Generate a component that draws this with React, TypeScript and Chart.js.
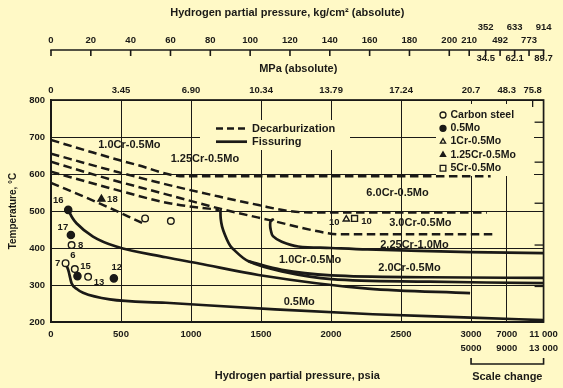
import React, { useEffect, useRef } from "react";
import { Chart, registerables } from "chart.js";

Chart.register(...registerables);

const W = 563;
const H = 388;
const BG = "#fff9c6";
const INK = "#1b1a17";
const FONT = '"Liberation Sans", Arial, Helvetica, sans-serif';

// ---------------- axes ----------------
// x axis units: psia up to 3000, then the compressed "scale change" band
const X_MAX = 3518;
const psiaTicks = [0, 500, 1000, 1500, 2000, 2500, 3000, 3255, 3518];
const psiaLabels: (string | string[])[] = [
  "0", "500", "1000", "1500", "2000", "2500",
  ["3000", "5000"], ["7000", "9000"], ["11 000", "13 000"],
];
const tempTicks = [200, 300, 400, 500, 600, 700, 800];
const mpaTicks = [0, 500, 1000, 1500, 2000, 2500, 3000, 3255, 3440];
const mpaLabels = ["0", "3.45", "6.90", "10.34", "13.79", "17.24", "20.7", "48.3", "75.8"];
const kgTicks = [0, 20, 40, 60, 80, 100, 120, 140, 160, 180, 200, 210, 352, 492, 633, 773, 914];
const kgHighRow = [352, 633, 914];
const kgMpaValues = [352, 633, 914];
const kgMpaLabels = ["34.5", "62.1", "89.7"];
const rightTickTemps = [740, 632, 521, 408, 296];
const kgToAxis = (kg: number) => (kg <= 210 ? kg * 14.223 : 3000 + (kg - 210) * (518 / 704));

// ---------------- decarburization curves (dashed) ----------------
const decA_p = [0, 300, 600, 950, 3140];
const decA_t = [692, 658, 626, 594, 594];
const decB_p = [0, 420, 844, 1200, 1482, 1695, 1850, 3113];
const decB_t = [655, 611, 570, 539, 516, 500, 496, 496];
const decC_p = [0, 420, 844, 1200, 1553, 1979, 2060, 3184];
const decC_t = [633, 586, 543, 507, 476, 440, 437, 437];
const decD_p = [0, 420, 844, 1200];
const decD_t = [606, 562, 521, 503];
const decE_p = [0, 350, 655];
const decE_t = [576, 520, 467];

// ---------------- fissuring curves (solid) ----------------
const fisCS_p = [104, 123, 147, 185, 229, 420, 820, 1600, 2300, 3000, 3518];
const fisCS_t = [357, 341, 305, 289, 279, 261, 252, 234, 221, 212, 205];
const fis05_p = [123, 150, 182, 300, 466, 820, 1057, 1482, 2262, 2993];
const fis05_t = [503, 483, 467, 431, 404, 375, 358, 327, 290, 278];
const fis10_p = [1210, 1212, 1222, 1242, 1268, 1293, 1411, 1648, 2002, 2700, 3518];
const fis10_t = [503, 480, 458, 436, 414, 400, 364, 337, 316, 309, 305];
const fis20_p = [1411, 1648, 2002, 2700, 3518];
const fis20_t = [364, 341, 326, 321, 319];
const fis225_p = [1592, 1570, 1565, 1570, 1585, 1648, 1766, 2000, 2262, 3000, 3518];
const fis225_t = [478, 474, 462, 448, 432, 417, 404, 400, 396, 389, 386];

// ---------------- experience points ----------------
const csP = [147, 104, 170, 265, 672, 856];
const csT = [408, 359, 343, 322, 480, 473];
const csLbl = ["8", "7", "6", "13", "", ""];
const mo5P = [123, 142, 189, 449];
const mo5T = [503, 435, 324, 318];
const mo5Lbl = ["16", "17", "15", "12"];
const cr1P = [2109];
const cr1T = [478];
const cr1Lbl = ["10"];
const cr125P = [360];
const cr125T = [532];
const cr125Lbl = ["18"];
const cr5P = [2168];
const cr5T = [480];
const cr5Lbl = ["10"];

// ---------------- curve labels ----------------
const curveLabelText = ["1.0Cr-0.5Mo", "1.25Cr-0.5Mo", "6.0Cr-0.5Mo", "3.0Cr-0.5Mo", "2.25Cr-1.0Mo", "1.0Cr-0.5Mo", "2.0Cr-0.5Mo", "0.5Mo"];
const curveLabelP = [560, 1099, 2475, 2638, 2596, 1851, 2560, 1773];
const curveLabelT = [678, 641, 549, 468, 409, 368, 346, 254];

// label offsets (style, px)
const csOff = [[9, 0], [-8, 0], [-2, -14], [11, 6], [0, 0], [0, 0]];
const mo5Off = [[-10, -10], [-8, -8], [8, -10], [3, -11]];
const cr1Off = [[-12, 3]];
const cr125Off = [[11, 0]];
const cr5Off = [[12, 3]];

const pts = (p: number[], t: number[]) => p.map((v, i) => ({ x: v, y: t[i] }));

function curve(label: string, p: number[], t: number[], dashed: boolean, hook = false) {
  return {
    label,
    data: pts(p, t),
    showLine: true,
    borderColor: INK,
    backgroundColor: INK,
    borderWidth: dashed ? 2.5 : 2.7,
    borderDash: dashed ? [8.5, 4.5] : [],
    pointRadius: 0,
    fill: false,
    tension: hook ? 0.35 : 0.2,
    cubicInterpolationMode: hook ? "default" : "monotone",
    borderCapStyle: "butt",
    borderJoinStyle: "round",
  };
}

function markers(label: string, p: number[], t: number[], style: string, filled: boolean, r: number, lbl: string[], off: number[][], row: number) {
  return {
    label,
    data: pts(p, t),
    showLine: false,
    pointStyle: style,
    pointRadius: r,
    backgroundColor: filled ? INK : BG,
    borderColor: INK,
    borderWidth: 1.4,
    pointLabels: lbl,
    labelOffsets: off,
    legendRow: row,
    legendFilled: filled,
  };
}

function drawText(ctx: any, s: string, x: number, y: number, size: number, align: CanvasTextAlign = "center") {
  ctx.font = `bold ${size}px ${FONT}`;
  ctx.textAlign = align;
  ctx.textBaseline = "middle";
  ctx.fillStyle = INK;
  ctx.fillText(s, x, y);
}
function seg(ctx: any, x1: number, y1: number, x2: number, y2: number) {
  ctx.beginPath();
  ctx.moveTo(x1, y1);
  ctx.lineTo(x2, y2);
  ctx.stroke();
}
function marker(ctx: any, style: string, filled: boolean, x: number, y: number, r: number) {
  ctx.beginPath();
  if (style === "circle") ctx.arc(x, y, r, 0, Math.PI * 2);
  else if (style === "triangle") {
    ctx.moveTo(x, y - r);
    ctx.lineTo(x + r * 0.866, y + r * 0.5);
    ctx.lineTo(x - r * 0.866, y + r * 0.5);
    ctx.closePath();
  } else {
    const s = r * Math.SQRT1_2;
    ctx.rect(x - s, y - s, 2 * s, 2 * s);
  }
  ctx.fillStyle = filled ? INK : BG;
  ctx.fill();
  ctx.lineWidth = 1.3;
  ctx.strokeStyle = INK;
  ctx.stroke();
}

const decor = {
  id: "decor",
  beforeDatasetsDraw(chart: any) {
    const { ctx, chartArea: ca } = chart;
    ctx.save();
    ctx.fillStyle = BG;
    ctx.fillRect(ca.left + 385, ca.top + 4, 98, 72);
    ctx.fillRect(ca.left + 149, ca.top + 20, 150, 30);
    ctx.restore();
  },
  afterDatasetsDraw(chart: any) {
    const { ctx, chartArea: ca } = chart;
    const xs = chart.scales.x;
    const ys = chart.scales.y;
    const X = (u: number) => xs.getPixelForValue(u);
    const Y = (t: number) => ys.getPixelForValue(t);
    ctx.save();
    ctx.strokeStyle = INK;
    ctx.lineCap = "butt";

    // frame
    ctx.lineWidth = 1.7;
    ctx.strokeRect(ca.left, ca.top, ca.right - ca.left, ca.bottom - ca.top);
    ctx.lineWidth = 1.3;
    seg(ctx, X(3440), ca.top, X(3440), ca.top + 7);
    rightTickTemps.forEach((t) => seg(ctx, ca.right - 9, Y(t), ca.right, Y(t)));

    // kg/cm2 axis
    const kgY = ca.top - 50;
    ctx.lineWidth = 1.6;
    seg(ctx, X(0) - 0.75, kgY, X(X_MAX) + 0.75, kgY);
    kgTicks.forEach((kg) => {
      const px = X(kgToAxis(kg));
      seg(ctx, px, kgY, px, kgY + 6);
      const high = kgHighRow.includes(kg);
      drawText(ctx, String(kg), px, high ? kgY - 22.2 : kgY - 9.5, 9.5);
    });
    kgMpaValues.forEach((kg, i) => drawText(ctx, kgMpaLabels[i], X(kgToAxis(kg)), kgY + 8.7, 9.5));
    const mid = (ca.left + ca.right) / 2;
    drawText(ctx, "Hydrogen partial pressure, kg/cm² (absolute)", mid - 10, 12.5, 11);
    drawText(ctx, "MPa (absolute)", mid + 1, ca.top - 31.5, 11);
    mpaTicks.forEach((u, i) => drawText(ctx, mpaLabels[i], X(u), ca.top - 9.5, 9.5));

    // scale change bracket
    const xl = X(3000);
    const xr = X(X_MAX);
    ctx.lineWidth = 1.6;
    ctx.beginPath();
    ctx.moveTo(xl, ca.bottom + 36);
    ctx.lineTo(xl, ca.bottom + 42);
    ctx.lineTo(xr, ca.bottom + 42);
    ctx.lineTo(xr, ca.bottom + 36);
    ctx.stroke();
    drawText(ctx, "Scale change", (xl + xr) / 2, ca.bottom + 55, 11);

    // line-style legend
    const lx = ca.left + 165;
    ctx.lineWidth = 2.5;
    ctx.setLineDash([7, 4]);
    seg(ctx, lx, ca.top + 28.5, lx + 31, ca.top + 28.5);
    ctx.setLineDash([]);
    ctx.lineWidth = 2.7;
    seg(ctx, lx, ca.top + 41.7, lx + 31, ca.top + 41.7);
    drawText(ctx, "Decarburization", lx + 36, ca.top + 28.5, 11, "left");
    drawText(ctx, "Fissuring", lx + 36, ca.top + 41.7, 11, "left");

    // curve labels
    curveLabelText.forEach((s, i) => drawText(ctx, s, X(curveLabelP[i]), Y(curveLabelT[i]), 11));

    // point labels and marker legend
    chart.data.datasets.forEach((ds: any, i: number) => {
      if (!ds.pointLabels) return;
      const meta = chart.getDatasetMeta(i);
      ds.pointLabels.forEach((s: string, j: number) => {
        if (!s) return;
        const el = meta.data[j];
        const o = ds.labelOffsets[j];
        drawText(ctx, s, el.x + o[0], el.y + o[1], 9.5);
      });
      const ry = ca.top + 15 + ds.legendRow * 13.3;
      marker(ctx, ds.pointStyle, ds.legendFilled, ca.left + 392, ry, ds.pointStyle === "rect" ? 4 : 3);
      drawText(ctx, ds.label, ca.left + 399.5, ry, 10.5, "left");
    });
    ctx.restore();
  },
};

export default function App() {
  const ref = useRef<HTMLCanvasElement>(null);
  useEffect(() => {
    const cv = ref.current;
    if (!cv) return;
    const tickFont = { family: FONT, size: 9.5, weight: "bold" as const };
    const chart = new Chart(cv, {
      type: "scatter",
      data: {
        datasets: [
          markers("Carbon steel", csP, csT, "circle", false, 3.3, csLbl, csOff, 0),
          markers("0.5Mo", mo5P, mo5T, "circle", true, 3.6, mo5Lbl, mo5Off, 1),
          markers("1Cr-0.5Mo", cr1P, cr1T, "triangle", false, 3.6, cr1Lbl, cr1Off, 2),
          markers("1.25Cr-0.5Mo", cr125P, cr125T, "triangle", true, 4, cr125Lbl, cr125Off, 3),
          markers("5Cr-0.5Mo", cr5P, cr5T, "rect", false, 4.2, cr5Lbl, cr5Off, 4),
          curve("dec A", decA_p, decA_t, true),
          curve("dec B", decB_p, decB_t, true),
          curve("dec C", decC_p, decC_t, true),
          curve("dec D", decD_p, decD_t, true),
          curve("dec E", decE_p, decE_t, true),
          curve("Carbon steel fissuring", fisCS_p, fisCS_t, false),
          curve("0.5Mo fissuring", fis05_p, fis05_t, false),
          curve("1.0Cr-0.5Mo fissuring", fis10_p, fis10_t, false, true),
          curve("2.0Cr-0.5Mo fissuring", fis20_p, fis20_t, false),
          curve("2.25Cr-1.0Mo fissuring", fis225_p, fis225_t, false, true),
        ] as any,
      },
      options: {
        responsive: false,
        devicePixelRatio: 1,
        animation: false,
        events: [],
        layout: { padding: { top: 100, right: 16, left: 0, bottom: 0 } },
        plugins: { legend: { display: false }, tooltip: { enabled: false } },
        scales: {
          x: {
            type: "linear",
            position: "bottom",
            min: 0,
            max: X_MAX,
            afterBuildTicks: (s: any) => {
              s.ticks = psiaTicks.map((v) => ({ value: v }));
            },
            afterFit: (s: any) => {
              s.height = 66;
            },
            ticks: {
              autoSkip: false,
              maxRotation: 0,
              padding: 4.9,
              color: INK,
              font: { ...tickFont, lineHeight: 1.5 },
              callback: (_v: any, i: number) => psiaLabels[i],
            },
            grid: { color: INK, lineWidth: 1, drawTicks: false },
            border: { display: true, color: INK, width: 1.7 },
            title: {
              display: true,
              text: "Hydrogen partial pressure, psia",
              color: INK,
              font: { family: FONT, size: 11, weight: "bold" },
              padding: { top: 0, bottom: 5.4 },
            },
          },
          y: {
            type: "linear",
            min: 200,
            max: 800,
            afterBuildTicks: (s: any) => {
              s.ticks = tempTicks.map((v) => ({ value: v }));
            },
            afterFit: (s: any) => {
              s.width = 51;
            },
            ticks: { padding: 6, color: INK, font: tickFont },
            grid: { color: INK, lineWidth: 1, drawTicks: false },
            border: { display: true, color: INK, width: 1.7 },
            title: {
              display: true,
              text: "Temperature, °C",
              color: INK,
              font: { family: FONT, size: 10, weight: "bold" },
              padding: { top: 7.3, bottom: 0 },
            },
          },
        },
      } as any,
      plugins: [decor],
    });
    return () => chart.destroy();
  }, []);
  return (
    <div style={{ position: "fixed", left: 0, top: 0, width: W, height: H, background: BG }}>
      <canvas ref={ref} width={W} height={H} style={{ display: "block", width: W, height: H }} />
    </div>
  );
}
